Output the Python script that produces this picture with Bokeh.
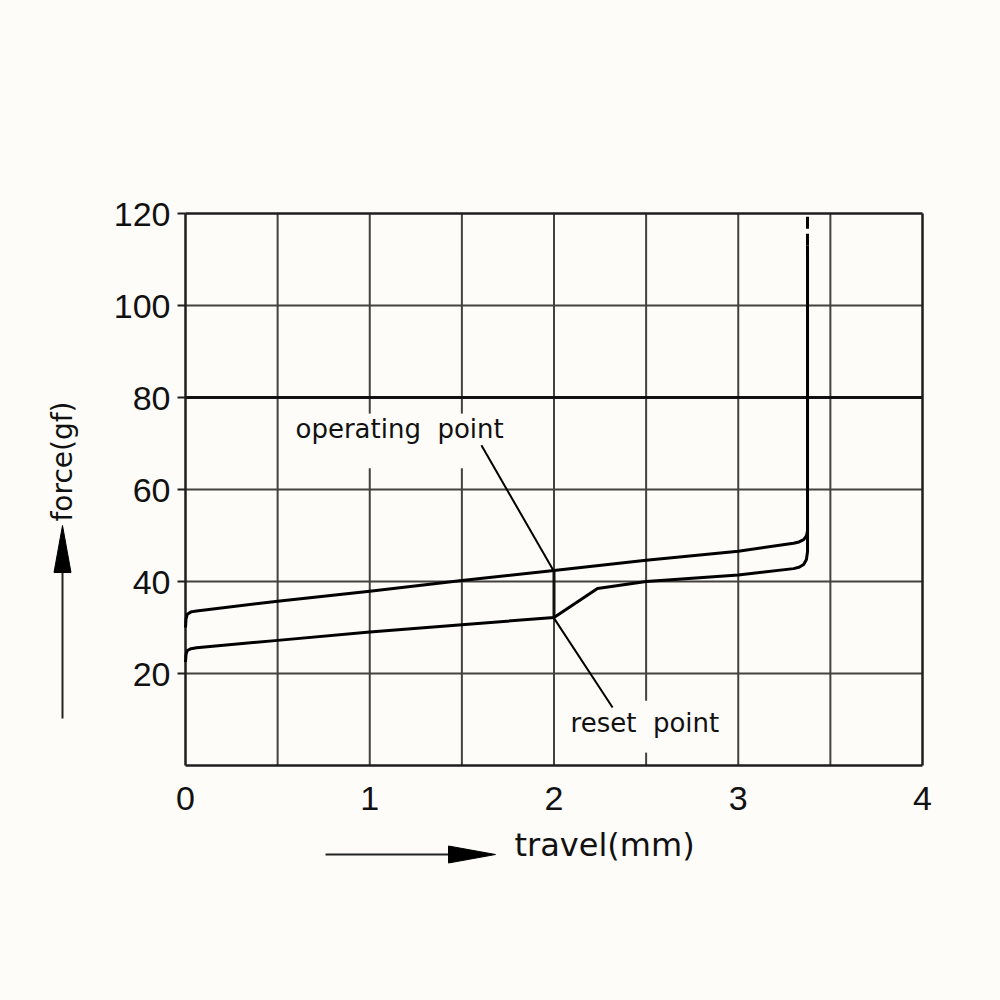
import math
from bokeh.plotting import figure
from bokeh.models import Range1d
from bokeh.embed import file_html
from bokeh.resources import INLINE

# ---------------- data ----------------
x_ticks = [0, 1, 2, 3, 4]
x_tick_labels = ["0", "1", "2", "3", "4"]
y_ticks = [20, 40, 60, 80, 100, 120]
y_tick_labels = ["20", "40", "60", "80", "100", "120"]
grid_x = [0.5, 1.0, 1.5, 2.0, 2.5, 3.0, 3.5]
grid_y = [20, 40, 60, 100]
heavy_y = [80]
x_min, x_max = 0, 4
y_min, y_max = 0, 120

# operating (pressing) curve
op_x = [0, 0.003, 0.01, 0.03, 0.06, 0.5, 1.0, 1.5, 2.0, 2.5, 3.0, 3.3, 3.33, 3.355, 3.37, 3.376, 3.376]
op_y = [30.0, 31.9, 32.9, 33.4, 33.6, 35.7, 37.9, 40.2, 42.4, 44.6, 46.6, 48.3, 48.6, 49.1, 49.9, 51.0, 113.0]
# reset (release) curve
rs_x = [0, 0.003, 0.01, 0.03, 0.06, 0.5, 1.0, 1.5, 2.0, 2.236, 2.5, 3.0, 3.3, 3.33, 3.355, 3.37, 3.376, 3.376]
rs_y = [22.5, 24.2, 25.0, 25.4, 25.6, 27.2, 29.0, 30.6, 32.2, 38.5, 40.0, 41.4, 42.8, 43.1, 43.7, 44.8, 46.5, 53.0]
# dashed continuation
dash_x = [3.376, 3.376]
dash_y = [113.0, 120.0]

# gaps in vertical grid lines (x, y_from, y_to)
gap_x = [1.0, 1.5, 2.5]
gap_lo = [64.6, 64.6, 2.8]
gap_hi = [76.5, 76.5, 14.1]

op_text = "operating\u00a0\u00a0point"
rs_text = "reset\u00a0\u00a0point"
op_label_pos = (0.597, 71.1)
rs_label_pos = (2.09, 7.2)
op_leader = ([1.606, 1.997], [69.6, 42.4])
rs_leader = ([1.997, 2.318], [32.2, 12.6])

BG = "#fdfcf9"
GRID = "#45413c"
INK = "#111111"
FONT_CAD = "DejaVu Sans"
FONT_TICK = "Liberation Sans"

# plot area in screen pixels: x 0..4 -> 185..922, y 0..120 -> 765..213
PX_PER_X = (922 - 185) / 4.0
PX_PER_Y = (765 - 213) / 120.0
BASE_FIX = 0.35  # empirical baseline correction (fraction of font size)


def dx(px):
    return (px - 185) / PX_PER_X


def dy(py):
    return (765 - py) / PX_PER_Y


p = figure(width=1000, height=1000, output_backend="svg", toolbar_location=None,
           x_range=Range1d(dx(0), dx(1000)), y_range=Range1d(dy(1000), dy(0)),
           min_border=0)
p.background_fill_color = BG
p.border_fill_color = BG
p.outline_line_color = None
p.axis.visible = False
p.grid.visible = False

# vertical grid lines split by gaps
vx0, vy0, vx1, vy1 = [], [], [], []
for gx in grid_x:
    cuts = [(lo, hi) for x, lo, hi in zip(gap_x, gap_lo, gap_hi) if x == gx]
    start = y_min
    for lo, hi in sorted(cuts):
        vx0.append(gx); vy0.append(start); vx1.append(gx); vy1.append(lo)
        start = hi
    vx0.append(gx); vy0.append(start); vx1.append(gx); vy1.append(y_max)
p.segment(x0=vx0, y0=vy0, x1=vx1, y1=vy1, line_color=GRID, line_width=2)

# horizontal grid lines
p.segment(x0=[x_min] * len(grid_y), y0=grid_y, x1=[x_max] * len(grid_y), y1=grid_y,
          line_color=GRID, line_width=2)
p.segment(x0=[x_min] * len(heavy_y), y0=heavy_y, x1=[x_max] * len(heavy_y), y1=heavy_y,
          line_color=INK, line_width=3)

# frame
p.segment(x0=[x_min, x_min, x_min, x_max], y0=[y_min, y_max, y_min, y_min],
          x1=[x_max, x_max, x_min, x_max], y1=[y_min, y_max, y_max, y_max],
          line_color="#1e1e1e", line_width=2.5)

# y tick marks (8 px out)
tick_len = 8 / PX_PER_X
p.segment(x0=[x_min - tick_len] * len(y_ticks), y0=y_ticks, x1=[x_min] * len(y_ticks), y1=y_ticks,
          line_color="#1e1e1e", line_width=2)


def baseline_y(py, size):
    # screen baseline py -> data y, with renderer baseline correction
    return dy(py - BASE_FIX * size)


TICK_SIZE = 34
# tick labels
p.text(x=[x_min - 15 / PX_PER_X] * len(y_ticks),
       y=[t - 13 / PX_PER_Y + BASE_FIX * TICK_SIZE / PX_PER_Y for t in y_ticks],
       text=y_tick_labels, text_font={"value": FONT_TICK},
       text_font_size=f"{TICK_SIZE}px", text_color=INK, text_align="right", text_baseline="alphabetic")
p.text(x=x_ticks, y=[y_min - (45 - BASE_FIX * TICK_SIZE) / PX_PER_Y] * len(x_ticks),
       text=x_tick_labels, text_font={"value": FONT_TICK},
       text_font_size=f"{TICK_SIZE}px", text_color=INK, text_align="center", text_baseline="alphabetic")

# reinforcement of x=2 line between curves
p.segment(x0=[2.0], y0=[32.2], x1=[2.0], y1=[42.4], line_color=INK, line_width=3)

# curves
p.line(op_x, op_y, line_color="#000000", line_width=3, line_join="round")
p.line(rs_x, rs_y, line_color="#000000", line_width=3, line_join="round")
p.line(dash_x, dash_y, line_color="#000000", line_width=3, line_dash="12 5")

# leaders
p.line(op_leader[0], op_leader[1], line_color="#000000", line_width=2)
p.line(rs_leader[0], rs_leader[1], line_color="#000000", line_width=2)

# annotation texts
ANN_SIZE = 26
p.text(x=[op_label_pos[0], rs_label_pos[0]],
       y=[op_label_pos[1] + BASE_FIX * ANN_SIZE / PX_PER_Y, rs_label_pos[1] + BASE_FIX * ANN_SIZE / PX_PER_Y],
       text=[op_text, rs_text], text_font={"value": FONT_CAD}, text_font_size=f"{ANN_SIZE}px",
       text_color=INK, text_align="left", text_baseline="alphabetic")

# axis titles
p.text(x=[dx(62)], y=[dy(461)], text=["force(gf)"], angle=math.pi / 2,
       text_font={"value": FONT_CAD}, text_font_size="28px", text_color=INK,
       text_align="center", text_baseline="middle")
p.text(x=[dx(514)], y=[baseline_y(856, 32)], text=["travel(mm)"],
       text_font={"value": FONT_CAD}, text_font_size="32px", text_color=INK,
       text_align="left", text_baseline="alphabetic")

# axis arrows
p.segment(x0=[dx(62), dx(325)], y0=[dy(718), dy(854)], x1=[dx(62), dx(450)], y1=[dy(570), dy(854)],
          line_color="#222222", line_width=2)
p.patches(xs=[[dx(53.5), dx(70.5), dx(62)], [dx(448), dx(448), dx(495)]],
          ys=[[dy(572), dy(572), dy(525)], [dy(845.5), dy(862.5), dy(854)]],
          fill_color="#000000", line_color="#000000", line_width=1)

open("out.html", "w").write(file_html(p, INLINE))
